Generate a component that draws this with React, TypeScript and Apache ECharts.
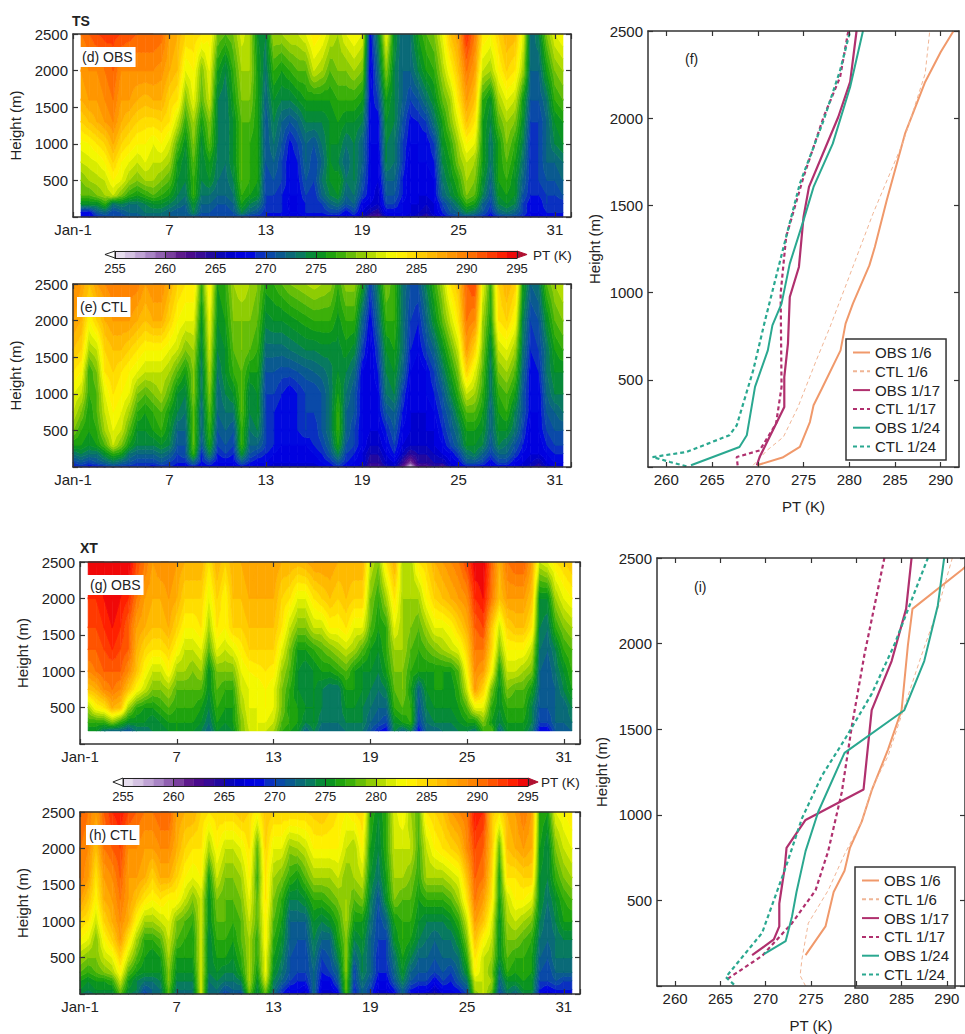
import React, { useEffect, useRef } from "react";
import * as echarts from "echarts";

// Contour grid: one profile per half day, from Jan-1 onward (axis value = days since Jan-1)
const heights = [0, 60, 180, 300, 500, 750, 1000, 1300, 1600, 2000, 2500];
const N: any = null;
const blank = [N, N, N, N, N, N, N, N, N, N];

// Values at 60 m, one per half day
const tsObs60 = [
  N,268,268,271,272,270,271,272,272,273,
  273,273,272,271,271,274,271,271,270,270,
  271,274,272,271,269,269,269,268,268,269,
  269,269,270,270,268,270,267,265,264,268,
  268,268,267,266,265,267,269,271,272,274,
  273,271,269,272,273,272,270,268,268,269,
  269,269,
];
const tsCtl60 = [
  270,271,270,271,272,273,272,271,270,270,
  270,271,270,269,269,272,268.5,270,268,268,
  268,271,269,268,268,267,267,267,267,267,
  267,268,269,271,269,268,267,264,264,266,
  267,264,260,264,264,265,265,267,268,271,
  271,270,268,270,270,268,267,266,265,267,
  268,268,
];
const xtObs60 = [
  N,N,N,N,N,N,N,N,N,N,
  N,N,N,N,N,N,N,N,N,N,
  N,N,N,N,N,N,N,N,N,N,
  N,N,N,N,N,N,N,N,N,N,
  N,N,N,N,N,N,N,N,N,N,
  N,N,N,N,N,N,N,N,N,N,
  N,N,
];
const xtCtl60 = [
  275,274,275,275,275,279,275,274,271,272,
  273,278,273,273,273,281,272,273,271,272,
  272,279,274,279,273,270,268,268,267,272,
  267,267,269,278,269,272,270,267,267,269,
  272,269,268,268,266,268,268,269,271,280,
  281,279,271,274,273,275,275,269,268,269,
  269,269,
];

const tsObsRest = [
  blank,
  [269,275,278,279,281,282.5,285,287,288,290],
  [268,275,278,280,281.5,283,286,288,289,291],
  [269,275,279,280.5,282,284,287,288,289,292],
  [270,277,280,281,283,285,288,289,290,292.5],
  [270,273,281,283,285,287,289,290,291,292.5],
  [270,274,279,282,283,285,287,288,289,292],
  [271,273,277,280,282,284,286,288,289,291.5],
  [271,273,276,279,281,283,285,287,289,291],
  [272,274,277,280,282,283,284.5,286.5,289,291],
  [272,275,278,280,281,282,284.5,287,289,291],
  [272,275,277,279,281,283,285,287,288.5,290.5],
  [272,274,276,278,280,281.5,284,285,287,288],
  [272,273,274,275,276,278,281,284,286,287],
  [271,272,273,274,274,275,277,279,282,285],
  [271,275,277,277,278,279,280,282,283,285],
  [270,272,273,274,274,274.5,276,278,279,284],
  [270,272,273,275,276,278,279,281,282,283.5],
  [270,271,272,273,273.5,274,274,274,276,279],
  [270,271,272,272.5,273,273,273,273,274,278],
  [270,272,273,274,275,275,275,276,277,279],
  [270,276,277,278,278,278,278,279,280,281.5],
  [269,274,276,277,277,277,278,279,280,280],
  [269,273,275,276,276,276,276,276,276,275],
  [269,270,270,270,271,271,271,272,273,274],
  [268,269,270,271,272,273,274,275,277,280],
  [268,269,269,270,270,271,272,274,276,280],
  [267,267.5,268,268,268,268.5,271,274,277,281],
  [267,268,268,268.5,269,270,272,275,278,281],
  [268,269,270,271,272,272,274,276,278,282],
  [268,269,269,270,270,271,274,276,281,284],
  [268,270,272,273,272,273,274,276,280,283],
  [268,272,274,275,275,275,275,276,278,281],
  [268,273,275,276,274,275,276,277,279,280],
  [267,271,272,273,272,273,275,277,279,282],
  [268,272,273,274,274,274,275,277,280,283],
  [265,268,270,271,272,272,274,276,279,282],
  [263,267,268,268,268,268,268,268,267,268],
  [262,266,266,267,267,268,268,270,272,274],
  [266,270,271,272,274,274,275,276,279,282],
  [267,270,271,272,273,273,274,274,274,275],
  [267,268,269,269,270,270,271,272,272,272],
  [266,267,267,267,267,268,268.5,270,272,273],
  [265,267,267,267,268,268,269,271,274,276],
  [264,266,267,267,268,268,270,273,276,278],
  [266,267,268,268,269,270,273,275,277,279],
  [268,270,272,273,274,275,276,278,280,282],
  [269,272,274,275,276,277,279,280,283,286],
  [270,274,276,277,279,280,282,284,286,288],
  [270,277,279,280,281,283,286,288,290,293],
  [270,276,278,279,280,282,284,286,288,290],
  [269,272,274,275,276,276,276,277,281,284],
  [268,270,271,272,273,273,274,275,280,283],
  [269,274,275,276,276,276,278,280,283,285],
  [270,275,276,277,278,279,280,282,285,287],
  [270,274,275,275,276,277,279,281,284,286.5],
  [269,270,271,272,273,274,275,276,280,282],
  [267,268,269,269,269,269,270,271,272,272],
  [267,268,269,270,270,270,270,271,272,274],
  [268,270,270,271,272,272,272,273,276,279],
  [268,269,270,271,272,274,275,277,279,282],
  [268,269,271,272,273,275,276,278,280,283],
];

const tsCtlRest = [
  [268,273,276,279,281,282,284,286,288,289],
  [269,274,276,277,279,281,283,285,287,288],
  [268,273,275,276,276,277,277,280,283,286],
  [268,273,276,277,278,278,279,281,285,288],
  [269,275,278,280,281,282,284,285,287,289],
  [270,277,281,282,283,284,285,286,288,290],
  [269,276,279,281,282,283,284,286,288,290],
  [269,273,276,278,280,282,283,285,288,290],
  [269,272,274,275,277,279,282,284,287,289.5],
  [269,272,274,275,276,278,281,283,286,288],
  [268,272,274,276,277,279,281,283,287,289],
  [269,273,275,277,278,280,281,283,287,289],
  [269,272,274,275,276,278,280,282,285,287],
  [268,270,271,272,274,275,278,281,283,285],
  [268,271,271,272,273,274,276,279,282,284],
  [268,277,278,278,278,279,279,280,282,284],
  [268,269,271,272,272,273,273,274,275,277],
  [268,274,276,277,278,279,280,281,282,283.5],
  [268,269,270,271,272,272,273,274,275,276],
  [267,270,271,272,273,274,275,275,276,277],
  [267,269,270,271,273,275,277,278,279,280],
  [268,275,277,277,278,278,278,279,279,281],
  [268,271,272,273,274,274,276,278,279,280],
  [267,270,272,274,275,275,276,277,278,279],
  [267,269,270,270,270,270,271,272.5,274.5,276.5],
  [266,268,269,269,269,270,271,272.5,275,277],
  [266,267,268,268,268,269,270.5,272.5,275,278],
  [266,267,268,268,268,268,270.5,273,275.5,279],
  [266,267,268,269,269,269,271,273.5,276,279.5],
  [266,267,268,270,270,270,271.5,274,276.5,280],
  [266,268,269,269,270,270,272,274,277,280.5],
  [267,269,270,271,271,271,272.5,274.5,277,280],
  [268,271,272,273,273,273,273.5,274.5,277,279.5],
  [269,274,276,277,277,276,275,274.5,275.5,277],
  [268,270,271,272,272,273,274,275.5,277,279.5],
  [267,269,270,270,271,271,272.5,274.5,277,279.5],
  [266,267,268,268,268,268,268,270,272,276],
  [263,265,266,267,267,267,267,267,268,270],
  [263,265,266,267,268,268,269,270,272,274],
  [265,267,268,269,271,273,274,275,277,279],
  [266,269,270,271,272,274,275,276,277,277],
  [262,266,267,268,269,270,272,273,273,273],
  [256,264,266,267,267,267,268,269,270,271],
  [262,265,266,266,267,267,267,268,269,271],
  [262,265,266,267,267,268,268,270,272,274],
  [264,266,267,267,268,269,270,272,275,277],
  [262,267,268,269,270,271,273,275,278,280],
  [266,268,270,271,272,274,276,278,281,284],
  [267,270,272,273,275,277,279,281,284,286],
  [268,273,275,276,278,281,285,288,290,291],
  [268,274,275,276,278,280,282,285,289,292],
  [268,272,274,275,276,277,278,279,280,282],
  [267,270,271,272,272,273,273,274,276,277],
  [268,272,274,275,276,277,279,281,284,285],
  [268,272,273,275,277,278,280,282,285,287],
  [267,270,271,273,274,276,278,280,283,285.5],
  [266,268,269,270,271,271,272,273,274,276],
  [265,267,267,267,268,268,268,269,270,272],
  [264,267,267,268,268,268,269,270,271,273],
  [266,268,269,270,271,272,273,273,275,278],
  [267,269,270,271,272,274,275,276,278,280],
  [267,269,270,271,273,274,275,277,279,281],
];

const xtObsRest = [
  blank,
  [N,275,277,280,286,289,291,292,293,295],
  [N,275,277,283,287,290,291,292,293,295],
  [N,273,277,284,289,291,292,293,294,295],
  [N,272,279,287,290,291,293,294,295,296],
  [N,272,277,286,289,291,292,293,294,296],
  [N,271,275,280,286,289,291,291,293,295],
  [N,273,275,277,283,286,287,288,290,292],
  [N,273,275,276,281,283,285,287,288,290],
  [N,274,274,276,279,281,284,286,287,288],
  [N,274,275,277,279,281,284,286,287,289],
  [N,275,276,278,280,283,285,287,288,289],
  [N,276,276,277,278,280,283,285,287,288],
  [N,275,276,277,278,280,281,283,285,287],
  [N,275,276,277,278,279,281,283,285,287],
  [N,274,275,276,278,280,282,284,285,287],
  [N,272,273,274,275,275,278,280,282,284],
  [N,275,276,277,278,279,282,284,285,287],
  [N,274,275,276,277,279,281,283,283,285],
  [N,275,276,276,277,279,282,285,286,287],
  [N,279,279,280,281,282,283.5,285,286,287],
  [N,281,281.5,282,282,283,285,286,287,288],
  [N,282,282,282,282,283.5,285,286,287,288],
  [N,281,282,283,283,284,285,286,287,288],
  [N,280,281,282,282,283.5,285,286,287,288],
  [N,277,278,279,279,280,282,284,285,287],
  [N,276,277,276,277,278,279,281,284,287],
  [N,275,276,276,275,275,276,279,282,286.5],
  [N,272,274,275,274,274,276,279,282,287],
  [N,274,275,275,275,275,277,281,284,288],
  [N,272,273,274,274,276,278,281,285,288],
  [N,272,273,273,273,276,279,283,286,288],
  [N,272,273,273,273,277,280,283,285,287],
  [N,273,274,275,276,278,281,284,286,287],
  [N,273,274,275,276,276,280,282,285,287],
  [N,273,274,274,275,275,278,282,285,287],
  [N,271,272,273,274,275,276,278,279,281],
  [N,269,271,272,273,274,275,276,277,279],
  [N,268,270,272,274,276,277,277,280,284],
  [N,274,275,277,278,279,280,282,284,287],
  [N,272,276,278,279,279,280,280,280,280],
  [N,274,277,277,276,277,278,279,280,280],
  [N,268,270,271,272,276,277,278,280,284],
  [N,272,273,274,275,276,278,280,283,285],
  [N,272,274,275,276,276,279,282,285,287],
  [N,273,274,275,276,276,280,282,286,288],
  [N,273,274,275,275,276,281,283,287,289],
  [N,274,275,276,277,278,282,285,288,290],
  [N,274,276,278,281,283,285,287,289,292],
  [N,273,276,282,288,289,290,291,293,295],
  [N,277,279,282,285,288,290,292,294,295],
  [N,278,276,277,279,283,285,286,290,291],
  [N,272,274,275,275,276,279,281,286,287],
  [N,275,276,277,279,281,283,285,288,290],
  [N,275,276,277,278,281,283,286,288,291],
  [N,275,276,277,278,280,283,286,288,291],
  [N,273,274,274,276,279,281,284,286,288],
  [N,268,270,271,272,272,273,274,275,281],
  [N,268,270,271,271,271,272,273,275,282],
  [N,271,272,272,272,273,274,277,280,284],
  [N,271,272,272,274,275,277,279,282,285],
  [N,272,273,274,276,277,278,280,283,286],
];

const xtCtlRest = [
  [274,276,278,280,283,285,288,290,290,291],
  [273,275,277,279,282,284,286,288,289,290],
  [274,276,278,279,279,281,283,284,286,288],
  [274,276,279,281,283,285,287,288,290,291],
  [274,277,280,282,285,287,288,289,291,293],
  [278,281,283,285,288,289,290,291,292,294],
  [274,276,278,281,284,287,288,288,289,292],
  [273,274,276,278,280,283,286,288,289,291],
  [270,273,275,276,277,280,284,287,288,290],
  [272,273,275,275,277,280,283,285,288,290],
  [273,274,275,276,278,281,284,287,289,291],
  [278,279,279,280,281,282,283,287,289,291],
  [272,274,275,276,278,279,283,285,287,288],
  [272,274,275,276,277,278,281,283,285,287],
  [273,274,275,276,276,277,279,282,284,287],
  [281,281,281,281,281,281,281,283,284,285],
  [272,273,274,274,274,275,275,276,280,284],
  [272,274,275,276,277,278,279,281,283,285],
  [270,273,274,276,277,278,278,279,281,285],
  [271,273,274,275,276,277,278,279,281,285],
  [270,274,276,277,278,278,279,280,282,286],
  [278,280,280,280,280,281,282,283,284,285],
  [274,275,276,277,277,278,278,277,278,283],
  [278,281,282,282,283,283,284,284,285,286],
  [272,274,275,276,277,278,279,280,282,285],
  [269,272,273,274,275,276,277,279,282,285],
  [267,270,271,271,272,272,274,277,279.5,285],
  [267,269,270,270,271,272,274,276,280,285],
  [266,269,270,270,271,272,275,278,281,285],
  [272,272,272,273,274,275,277,280,283,285.5],
  [266,268,269,270,272,274,277,280,283,286],
  [266,268,270,271,272,275,278,280,283,285],
  [267,271,272,274,276,277,279,281,283,284],
  [277,278,279,279,279,280,280,279,281,283],
  [269,270,270,272,274,276,278,280,280,284],
  [272,273,274,274,275,276,279,281,283,285],
  [270,271,272,272,272,273,274,275,276,277],
  [266,268,269,269,270,270,271,273,274,275],
  [266,268,269,270,270,272,275,276,277,277],
  [268,271,272,273,275,276,279,280,281,281.5],
  [272,274,275,276,277,277,278,280,281,283],
  [268,271,272,274,276,277,278,279,281,280],
  [267,270,271,272,274,275,276,277,277.5,278],
  [266,270,271,272,273,274,277,280,281,284],
  [265,268,270,271,272,274,277,280,283,285],
  [267,270,271,272,273,274,277,280,284,286],
  [267,269,270,272,273,275,278,281,285,288],
  [268,271,272,273,275,277,280,282,286,289],
  [270,273,275,277,279,281,284,286,289,290],
  [279,281,283,284,286,288,290,291,292,294],
  [281,281,281,281,283,286,288,290,291,293],
  [278,280,279,280,281,282,284,285,286,286],
  [270,272,273,275,275,275,276,276,278,284],
  [273,275,277,278,279,280,281,284,286,287],
  [272,275,276,277,279,281,283,284,287,288],
  [274,276,277,277,278,280,283,285,288,290],
  [274,275,276,276,277,279,282,285,287,288],
  [268,270,271,272,273,274,275,275,276,277],
  [267,270,270,271,272,272,273,274,274,276],
  [268,271,272,273,273,274,275,277,279,282],
  [268,270,272,273,274,276,277,279,281,283],
  [268,270,272,273,274,276,278,280,282,284],
];

// Profiles as [PT (K), height (m)]
const tsObs16 = [[269.9,10],[272.7,54],[274.6,115],[275.7,258],[276.1,354],[277,449],[279.05,669],[279.6,822],[280.4,937],[282.2,1156],[282.8,1261],[284.1,1529],[286.1,1911],[288.3,2208],[290,2380],[291.4,2500]];
const tsCtl16 = [[269.5,10],[271,95],[272.8,172],[274.4,344],[276.4,612],[277.9,803],[279.7,1051],[282.6,1453],[285.9,1864],[288.3,2255],[288.8,2500]];
const tsObs117 = [[269.9,10],[270.2,57],[272,248],[272.9,344],[272.9,516],[273.3,707],[273.5,975],[274.5,1147],[275,1433],[275.6,1606],[278.8,2007],[280.1,2208],[280.8,2500]];
const tsCtl117 = [[267.8,10],[267.7,57],[270.2,95],[272,248],[272.6,459],[272.5,994],[273.1,1319],[275,1663],[277.2,2007],[279,2236],[279.9,2500]];
const tsObs124 = [[262.7,10],[268,115],[268.8,182],[269.7,459],[271.1,669],[271.6,812],[272.6,937],[273.5,1166],[275,1414],[276.1,1606],[278.2,1854],[280.1,2179],[281.5,2500]];
const tsCtl124 = [[262.2,4],[260.4,29],[258.5,57],[262.2,86],[266.9,182],[267.7,239],[269.5,554],[270.8,841],[273.1,1319],[274.6,1625],[277.2,1988],[279,2274],[280.1,2500]];

const xtObs16 = [[274.4,180],[276.6,348],[277.5,549],[278.7,673],[279.3,807],[280.6,960],[281.7,1142],[283.5,1381],[285,1611],[285.7,1993],[286.2,2203],[291.7,2433],[292.5,2470]];
const xtCtl16 = [[274.4,0],[273.8,61],[274,157],[274.7,367],[276.9,559],[278.7,769],[280.6,960],[281.7,1151],[283.5,1343],[285.3,1630],[287.1,1917],[289,2203],[290.6,2500]];
const xtObs117 = [[268.5,180],[270.9,272],[271.5,348],[271.5,482],[272.1,692],[272.3,807],[274.4,970],[280.8,1148],[281.7,1611],[283.9,1898],[285.5,2203],[286.1,2500]];
const xtCtl117 = [[265.8,42],[269.6,176],[272.9,367],[275.5,559],[276.9,788],[278.4,1132],[279.5,1515],[280.9,1936],[283.1,2500]];
const xtObs124 = [[269.8,186],[272.2,262],[272.9,405],[273.4,549],[274.4,788],[275.8,1018],[278.7,1362],[285.3,1611],[287.5,1898],[289,2223],[289.7,2500]];
const xtCtl124 = [[266.5,8],[265.6,52],[269.6,310],[272.2,692],[274,979],[276.2,1228],[278.7,1438],[281.7,1706],[284.2,1993],[287.9,2500]];

const seriesNames = ["OBS 1/6", "CTL 1/6", "OBS 1/17", "CTL 1/17", "OBS 1/24", "CTL 1/24"];
const ptTicks = [260, 265, 270, 275, 280, 285, 290];
const colorbarLevels = [254, 255, 256, 257, 258, 259, 260, 261, 262, 263, 264, 265, 266, 267, 268, 269, 270, 271, 272, 273, 274, 275, 276, 277, 278, 279, 280, 281, 282, 283, 284, 285, 286, 287, 288, 289, 290, 291, 292, 293, 294, 295];

const bandColors = ["#E6DDEE","#D4C2E2","#BFA3D4","#A884C4","#9060B0","#7A3F9E","#5E1A8C","#4A0A8C","#380A96","#22089F","#0A06B8","#0000CC","#0000E0","#0008E0","#0A30C0","#0A4AA8","#0A5A90","#0A6A78","#087A60","#068A38","#0A9420","#1FA30E","#3CB00A","#66BE08","#8ECC04","#B4DC00","#D8EC00","#F4F800","#FFF000","#FFDE00","#FFCC00","#FFBA00","#FFA800","#FF9600","#FF8400","#FF6E00","#FF5400","#FF3A00","#FF2000","#F00808"];
const FONT = "Liberation Sans";
const INK = "#222";

const withNear = (rest: number[][], near: number[]) =>
  rest.map((col, i) => [col[0], near[i], ...col.slice(1)]);

type P = [number, number, number];

function clipAbove(poly: P[], level: number, keepAbove: boolean): P[] {
  const out: P[] = [];
  const inside = (p: P) => (keepAbove ? p[2] >= level : p[2] <= level);
  for (let i = 0; i < poly.length; i++) {
    const a = poly[i];
    const b = poly[(i + 1) % poly.length];
    const ia = inside(a);
    const ib = inside(b);
    if (ia) out.push(a);
    if (ia !== ib) {
      const t = (level - a[2]) / (b[2] - a[2]);
      out.push([a[0] + (b[0] - a[0]) * t, a[1] + (b[1] - a[1]) * t, level]);
    }
  }
  return out;
}

function addTriangle(tri: P[], paths: Record<number, string[]>) {
  const vals = tri.map((p) => p[2]);
  const lo = Math.floor(Math.min(...vals));
  const hi = Math.floor(Math.max(...vals));
  for (let k = lo; k <= hi; k++) {
    let poly = clipAbove(tri, k, true);
    if (poly.length) poly = clipAbove(poly, k + 1, false);
    if (poly.length < 3) continue;
    const band = Math.max(0, Math.min(bandColors.length - 1, k - 255));
    const d = "M" + poly.map((p) => p[0].toFixed(1) + " " + p[1].toFixed(1)).join("L") + "Z";
    (paths[band] = paths[band] || []).push(d);
  }
}

function contourSeries(table: number[][], xAxisIndex: number, yAxisIndex: number) {
  return {
    type: "custom",
    coordinateSystem: "cartesian2d",
    xAxisIndex,
    yAxisIndex,
    z: 2,
    silent: true,
    encode: { x: 0, y: 1 },
    data: table.slice(0, -1).map((_, i) => [i * 0.5, 2500, i]),
    renderItem: (_p: any, api: any) => {
      const i = api.value(2);
      const paths: Record<number, string[]> = {};
      const A = table[i];
      const B = table[i + 1];
      for (let j = 0; j < heights.length - 1; j++) {
        const vs = [A[j], B[j], B[j + 1], A[j + 1]];
        if (vs.some((v) => v == null)) continue;
        const c0 = api.coord([i * 0.5, heights[j]]);
        const c2 = api.coord([(i + 1) * 0.5, heights[j + 1]]);
        const corners: P[] = [
          [c0[0], c0[1], vs[0]],
          [c2[0], c0[1], vs[1]],
          [c2[0], c2[1], vs[2]],
          [c0[0], c2[1], vs[3]],
        ];
        const mid: P = [(c0[0] + c2[0]) / 2, (c0[1] + c2[1]) / 2, (vs[0] + vs[1] + vs[2] + vs[3]) / 4];
        for (let k = 0; k < 4; k++) addTriangle([corners[k], corners[(k + 1) % 4], mid], paths);
      }
      return {
        type: "group",
        children: Object.keys(paths).map((b: any) => ({
          type: "path",
          shape: { pathData: paths[b].join("") },
          style: { fill: bandColors[b], stroke: bandColors[b], lineWidth: 0.6 },
        })),
      };
    },
  };
}

export default function App() {
  const ref = useRef<HTMLDivElement>(null);
  useEffect(() => {
    document.body.style.margin = "0";
    document.body.style.overflow = "hidden";
    const chart = echarts.init(ref.current as HTMLDivElement, null, { renderer: "svg" });

    const grid: any[] = [];
    const xAxis: any[] = [];
    const yAxis: any[] = [];
    const series: any[] = [];

    const line = { show: true, onZero: false, lineStyle: { color: "#333", width: 1.5 } };
    const tick = { show: true, inside: true, length: 5, lineStyle: { color: "#333", width: 1.2 } };
    const label = { color: INK, fontFamily: FONT, fontSize: 15 };
    const yBase = {
      type: "value", min: 0, max: 2500, interval: 500, z: 6,
      axisLine: line, axisTick: tick, splitLine: { show: false },
    };

    function addGrid(g: any, xBase: any, yName: string, yGap: number, xName?: string) {
      grid.push({ show: false, ...g });
      const gi = grid.length - 1;
      const xi = xAxis.length;
      const yi = yAxis.length;
      xAxis.push({
        gridIndex: gi, position: "bottom", ...xBase,
        name: xName, nameLocation: "middle", nameGap: 32,
        nameTextStyle: { color: INK, fontFamily: FONT, fontSize: 15 },
      });
      xAxis.push({ gridIndex: gi, position: "top", ...xBase, axisLabel: { show: false } });
      yAxis.push({
        gridIndex: gi, position: "left", ...yBase,
        name: yName, nameLocation: "middle", nameGap: yGap,
        nameTextStyle: { color: INK, fontFamily: FONT, fontSize: 15 },
        axisLabel: { ...label, margin: 5, formatter: (v: number) => (v === 0 ? "" : String(v)) },
      });
      yAxis.push({ gridIndex: gi, position: "right", ...yBase, axisLabel: { show: false } });
      return [xi, yi];
    }

    const dayAxis = {
      type: "value", min: 0, max: 31, interval: 6, z: 6,
      axisLine: line, axisTick: tick, splitLine: { show: false },
      axisLabel: {
        ...label, margin: 5,
        formatter: (v: number) => (v === 0 ? "Jan-1" : v === 31 ? "" : String(v + 1)),
      },
    };
    const ptAxis = {
      type: "value", min: 258, max: 292, z: 6,
      axisLine: line, axisTick: { ...tick, customValues: ptTicks }, splitLine: { show: false },
      axisLabel: { ...label, margin: 5, customValues: ptTicks },
    };

    const contourPanels: any[] = [
      [withNear(tsObsRest, tsObs60), { left: 71, top: 34, width: 500, height: 183 }, 50],
      [withNear(tsCtlRest, tsCtl60), { left: 71, top: 284, width: 500, height: 183 }, 50],
      [withNear(xtObsRest, xtObs60), { left: 80, top: 562, width: 500, height: 182 }, 50],
      [withNear(xtCtlRest, xtCtl60), { left: 80, top: 812, width: 500, height: 182 }, 50],
    ];
    contourPanels.forEach(([table, g, gap]) => {
      const [xi, yi] = addGrid(g, dayAxis, "Height (m)", gap);
      series.push(contourSeries(table, xi, yi));
    });

    const lineColors = ["#F0996B", "#F0B595", "#B0306E", "#B0306E", "#2AA890", "#2AA890"];
    const lineWidths = [2, 1, 2.2, 2.2, 2, 2.2];
    const linePanels: any[] = [
      [[tsObs16, tsCtl16, tsObs117, tsCtl117, tsObs124, tsCtl124], { left: 648, top: 31, width: 311, height: 436 }, 46],
      [[xtObs16, xtCtl16, xtObs117, xtCtl117, xtObs124, xtCtl124], { left: 657, top: 558, width: 310, height: 436 }, 48],
    ];
    linePanels.forEach(([profiles, g, gap]) => {
      const [xi, yi] = addGrid(g, ptAxis, "Height (m)", gap, "PT (K)");
      profiles.forEach((data: number[][], k: number) => {
        series.push({
          type: "line", name: seriesNames[k], data, xAxisIndex: xi, yAxisIndex: yi,
          symbol: "none", z: 3, silent: true,
          lineStyle: { color: lineColors[k], width: lineWidths[k], type: k % 2 ? [4, 3] : "solid" },
          itemStyle: { color: lineColors[k], opacity: 0 },
        });
      });
    });

    // Colour bars
    [{ left: 115, top: 251, width: 402, height: 7 }, { left: 123, top: 778, width: 405, height: 8 }].forEach((g) => {
      grid.push({ show: false, ...g });
      const gi = grid.length - 1;
      const xi = xAxis.length;
      const yi = yAxis.length;
      xAxis.push({
        gridIndex: gi, type: "value", min: 255, max: 295, interval: 5, z: 6, position: "bottom",
        axisLine: { show: true, onZero: false, lineStyle: { color: "#222", width: 1 } },
        axisTick: { show: true, inside: true, length: 7, lineStyle: { color: "#222", width: 1 } },
        splitLine: { show: false },
        axisLabel: { color: INK, fontFamily: FONT, fontSize: 13, margin: 4 },
      });
      yAxis.push({
        gridIndex: gi, type: "value", min: 0, max: 1, show: false, splitLine: { show: false },
      });
      series.push({
        type: "custom", coordinateSystem: "cartesian2d", xAxisIndex: xi, yAxisIndex: yi, z: 2, silent: true,
        encode: { x: 0, y: 1 }, clip: false,
        data: colorbarLevels.map((v) => [v, 1]),
        renderItem: (_p: any, api: any) => {
          const v = api.value(0);
          const a = api.coord([v, 0]);
          const b = api.coord([v + 1, 1]);
          if (v < 255) {
            return {
              type: "polygon",
              shape: { points: [[b[0], a[1]], [b[0], b[1]], [a[0], (a[1] + b[1]) / 2]] },
              style: { fill: "#fff", stroke: "#222", lineWidth: 1 },
            };
          }
          if (v >= 295) {
            return {
              type: "polygon",
              shape: { points: [[a[0], a[1]], [a[0], b[1]], [b[0], (a[1] + b[1]) / 2]] },
              style: { fill: "#B01030", stroke: "#B01030", lineWidth: 1 },
            };
          }
          return {
            type: "rect",
            shape: { x: a[0], y: b[1], width: b[0] - a[0], height: a[1] - b[1] },
            style: { fill: bandColors[v - 255], stroke: bandColors[v - 255], lineWidth: 0.3 },
          };
        },
      });
      xAxis.push({ gridIndex: gi, type: "value", min: 255, max: 295, position: "top", show: true, z: 6,
        axisLine: { show: true, onZero: false, lineStyle: { color: "#222", width: 1 } }, axisTick: { show: false }, axisLabel: { show: false }, splitLine: { show: false } });
    });

    const note = (text: string, left: number, top: number, extra: any = {}, textExtra: any = {}) => ({
      text, left, top, padding: [3, 3], ...extra,
      textStyle: { color: INK, fontFamily: FONT, fontSize: 14, fontWeight: "normal", ...textExtra },
    });
    const box = { backgroundColor: "#fff" };
    const title = [
      note("TS", 69, 11, {}, { fontWeight: "bold", fontSize: 14 }),
      note("XT", 77, 538, {}, { fontWeight: "bold", fontSize: 14 }),
      note("(d) OBS", 79, 47, box),
      note("(e) CTL", 77, 297, box),
      note("(g) OBS", 87, 575, box),
      note("(h) CTL", 86, 825, box),
      note("(f)", 682, 49),
      note("(i)", 691, 577),
      note("PT (K)", 530, 245, {}, { fontSize: 13.5 }),
      note("PT (K)", 538, 772, {}, { fontSize: 13.5 }),
    ];

    const legendBase = {
      orient: "vertical", data: seriesNames, itemWidth: 17, itemHeight: 14, itemGap: 3.8,
      padding: [6, 6, 6, 6], backgroundColor: "#fff", borderColor: "#333", borderWidth: 1.5,
      itemStyle: { opacity: 0 },
      textStyle: { color: INK, fontFamily: FONT, fontSize: 15 }, z: 5, selectedMode: false,
    };

    chart.setOption({
      animation: false,
      textStyle: { fontFamily: FONT },
      title,
      grid,
      xAxis,
      yAxis,
      series,
      legend: [
        { ...legendBase, left: 846, top: 339 },
        { ...legendBase, left: 855, top: 867 },
      ],
    });
    return () => chart.dispose();
  }, []);
  return <div ref={ref} style={{ position: "absolute", left: 0, top: 0, width: 965, height: 1034 }} />;
}
